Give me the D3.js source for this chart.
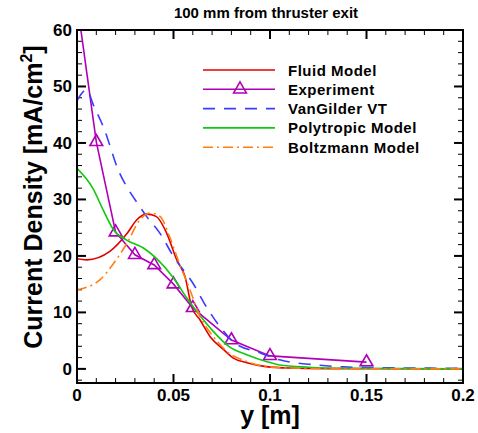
<!DOCTYPE html>
<html lang="en">
<head>
<meta charset="utf-8">
<title>Current density, 100 mm from thruster exit</title>
<script src="https://d3js.org/d3.v7.min.js"></script>
<style>
  body { margin: 0; background: #fff; }
  svg { font-family: "Liberation Sans", Arial, sans-serif; font-weight: bold; }
</style>
</head>
<body>
<svg width="478" height="433"></svg>
<script>
// --- data ---
var fluidX = [0, 0.005, 0.017, 0.026, 0.031, 0.036, 0.041, 0.0465, 0.0517, 0.056, 0.0594, 0.0637, 0.069, 0.076, 0.081, 0.088, 0.098, 0.11, 0.13, 0.2];
var fluidY = [19.5, 19.3, 20.8, 24, 26.4, 27.4, 27, 24, 19.3, 16.3, 11, 8.7, 5.7, 3.4, 1.9, 1.1, 0.4, 0.15, 0.05, 0];

var expX = [0, 0.01, 0.02, 0.03, 0.04, 0.05, 0.06, 0.08, 0.1, 0.15];
var expY = [65, 40.2, 24.2, 20.2, 18.4, 15, 10.8, 5.1, 2.3, 1.2];

var vgX = [0, 0.005, 0.0085, 0.0136, 0.022, 0.0266, 0.0326, 0.036, 0.043, 0.05, 0.06, 0.067, 0.074, 0.081, 0.095, 0.105, 0.124, 0.138, 0.16, 0.2];
var vgY = [47.5, 49.4, 46.7, 42.9, 34.7, 31.8, 28.7, 27, 24, 19.9, 15.2, 11, 7.5, 4.8, 2.8, 1.6, 0.7, 0.35, 0.2, 0.1];

var polyX = [0, 0.0085, 0.0136, 0.019, 0.0257, 0.0344, 0.041, 0.05, 0.057, 0.064, 0.0707, 0.079, 0.088, 0.098, 0.105, 0.12, 0.14, 0.2];
var polyY = [35.5, 31.8, 28.1, 24.6, 22.8, 21.4, 19.6, 16.1, 12.5, 9.3, 6.6, 3.9, 2.5, 1.3, 0.7, 0.3, 0.1, 0];

var boltzX = [0, 0.012, 0.019, 0.0258, 0.0326, 0.038, 0.043, 0.048, 0.053, 0.0585, 0.0637, 0.0707, 0.0776, 0.088, 0.098, 0.11, 0.13, 0.2];
var boltzY = [14, 15.8, 18.7, 22.2, 26.4, 27.6, 27, 23.4, 18.7, 14, 9.3, 5.7, 3.1, 1.3, 0.4, 0.15, 0.05, 0];

var xTicks = [0, 0.05, 0.1, 0.15, 0.2];
var xTickLabels = ["0", "0.05", "0.1", "0.15", "0.2"];
var yTicks = [0, 10, 20, 30, 40, 50, 60];

var series = [
  { name: "Fluid Model", xs: fluidX, ys: fluidY, color: "#e00000", dash: null, marker: false },
  { name: "Experiment", xs: expX, ys: expY, color: "#b000b8", dash: null, marker: true },
  { name: "VanGilder VT", xs: vgX, ys: vgY, color: "#3c3cff", dash: "12,9", marker: false },
  { name: "Polytropic Model", xs: polyX, ys: polyY, color: "#10c810", dash: null, marker: false },
  { name: "Boltzmann Model", xs: boltzX, ys: boltzY, color: "#ff8010", dash: "10,4,2,4", marker: false }
];

// --- layout ---
var svg = d3.select("svg");
var plotL = 77, plotR = 463, plotT = 30, plotB = 383;

var x = d3.scaleLinear().domain([0, 0.2]).range([plotL, plotR]);
var y = d3.scaleLinear().domain([-2.5, 60]).range([plotB, plotT]);

svg.append("clipPath").attr("id", "plotclip")
  .append("rect").attr("x", plotL).attr("y", plotT).attr("width", plotR - plotL).attr("height", plotB - plotT);

// ticks (inward on all four sides)
var xMinor = d3.range(0, 0.2001, 0.01);
var yMinor = d3.range(-2, 60.01, 2);

var ticks = svg.append("g").attr("stroke", "#000");
xMinor.forEach(function (v, i) {
  var major = (i % 5 === 0);
  var len = major ? 9 : 5;
  ticks.append("line").attr("x1", x(v)).attr("x2", x(v)).attr("y1", plotB).attr("y2", plotB - len)
    .attr("stroke-width", major ? 2 : 1);
  ticks.append("line").attr("x1", x(v)).attr("x2", x(v)).attr("y1", plotT).attr("y2", plotT + len)
    .attr("stroke-width", major ? 2 : 1);
});
yMinor.forEach(function (v) {
  var major = (Math.round(v) % 10 === 0);
  var len = major ? 9 : 5;
  ticks.append("line").attr("x1", plotL).attr("x2", plotL + len).attr("y1", y(v)).attr("y2", y(v))
    .attr("stroke-width", major ? 2 : 1);
  ticks.append("line").attr("x1", plotR).attr("x2", plotR - len).attr("y1", y(v)).attr("y2", y(v))
    .attr("stroke-width", major ? 2 : 1);
});

// tick labels
svg.append("g").selectAll("text").data(xTicks).enter().append("text")
  .attr("x", function (d) { return x(d); })
  .attr("y", plotB + 18)
  .attr("text-anchor", "middle")
  .attr("font-size", "17px")
  .text(function (d, i) { return xTickLabels[i]; });

svg.append("g").selectAll("text").data(yTicks).enter().append("text")
  .attr("x", plotL - 5)
  .attr("y", function (d) { return y(d) + 6; })
  .attr("text-anchor", "end")
  .attr("font-size", "17px")
  .text(function (d) { return d; });

// curves
var plot = svg.append("g").attr("clip-path", "url(#plotclip)");
series.forEach(function (s) {
  var pts = s.xs.map(function (v, i) { return [v, s.ys[i]]; });
  var line = d3.line()
    .x(function (d) { return x(d[0]); })
    .y(function (d) { return y(d[1]); })
    .curve(s.marker ? d3.curveLinear : d3.curveMonotoneX);
  plot.append("path").datum(pts)
    .attr("d", line)
    .attr("fill", "none")
    .attr("stroke", s.color)
    .attr("stroke-width", 1.6)
    .attr("stroke-dasharray", s.dash);
  if (s.marker) {
    plot.selectAll(".tri").data(pts).enter().append("path")
      .attr("transform", function (d) { return "translate(" + x(d[0]) + "," + y(d[1]) + ")"; })
      .attr("d", d3.symbol().type(d3.symbolTriangle).size(70))
      .attr("fill", "none")
      .attr("stroke", s.color)
      .attr("stroke-width", 1.6);
  }
});

// frame
svg.append("rect").attr("x", plotL).attr("y", plotT).attr("width", plotR - plotL).attr("height", plotB - plotT)
  .attr("fill", "none").attr("stroke", "#000").attr("stroke-width", 2);

// legend
var legend = svg.append("g");
series.forEach(function (s, i) {
  var ly = 70 + i * 19.3;
  legend.append("line").attr("x1", 203).attr("x2", 275).attr("y1", ly).attr("y2", ly)
    .attr("stroke", s.color).attr("stroke-width", 1.6).attr("stroke-dasharray", s.dash);
  if (s.marker) {
    legend.append("path").attr("transform", "translate(240," + ly + ")")
      .attr("d", d3.symbol().type(d3.symbolTriangle).size(70))
      .attr("fill", "none").attr("stroke", s.color).attr("stroke-width", 1.6);
  }
  legend.append("text").attr("x", 288).attr("y", ly + 5.5).attr("font-size", "15px")
    .attr("letter-spacing", "0.5px").text(s.name);
});

// titles
svg.append("text").attr("x", 266).attr("y", 18).attr("text-anchor", "middle")
  .attr("font-size", "15px").text("100 mm from thruster exit");

svg.append("text").attr("x", 270).attr("y", 424).attr("text-anchor", "middle")
  .attr("font-size", "25px").text("y [m]");

var yl = svg.append("text").attr("transform", "translate(42,197) rotate(-90)")
  .attr("text-anchor", "middle").attr("font-size", "25px");
yl.append("tspan").text("Current Density [mA/cm");
yl.append("tspan").attr("dy", -10).attr("font-size", "16px").text("2");
yl.append("tspan").attr("dy", 10).text("]");
</script>
</body>
</html>
